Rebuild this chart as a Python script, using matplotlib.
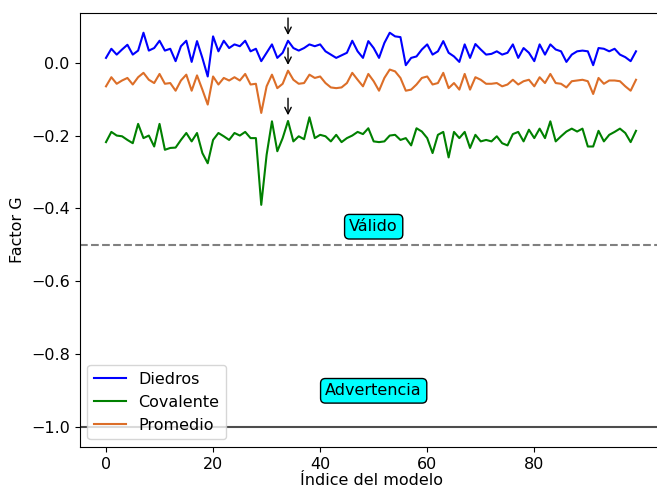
import numpy as np
import matplotlib
matplotlib.use('Agg')
import matplotlib.pyplot as plt

# G-factor per model
diedros = [0.013, 0.038, 0.022, 0.036, 0.049, 0.022, 0.033, 0.082, 0.033, 0.040,
           0.060, 0.033, 0.038, 0.004, 0.045, 0.060, 0.002, 0.059, 0.013, -0.038,
           0.072, 0.031, 0.060, 0.040, 0.050, 0.045, 0.060, 0.031, 0.038, 0.004,
           0.027, 0.050, 0.013, 0.027, 0.060, 0.040, 0.033, 0.040, 0.050, 0.045,
           0.050, 0.031, 0.022, 0.013, 0.020, 0.027, 0.060, 0.031, 0.013, 0.059,
           0.040, 0.013, 0.054, 0.082, 0.072, 0.070, -0.007, 0.013, 0.017, 0.036,
           0.050, 0.022, 0.031, 0.059, 0.027, 0.017, 0.002, 0.050, 0.013, 0.051,
           0.036, 0.022, 0.024, 0.031, 0.022, 0.027, 0.050, 0.013, 0.040, 0.027,
           0.004, 0.050, 0.022, 0.050, 0.036, 0.031, 0.002, 0.022, 0.031, 0.033,
           0.031, -0.007, 0.040, 0.038, 0.031, 0.038, 0.022, 0.015, 0.004, 0.031]

covalente = [-0.218, -0.190, -0.200, -0.202, -0.212, -0.221, -0.168, -0.207, -0.200, -0.230,
             -0.168, -0.239, -0.234, -0.233, -0.212, -0.193, -0.216, -0.193, -0.248, -0.276,
             -0.212, -0.193, -0.202, -0.212, -0.193, -0.200, -0.190, -0.207, -0.207, -0.390,
             -0.253, -0.161, -0.243, -0.207, -0.160, -0.216, -0.202, -0.210, -0.150, -0.207,
             -0.198, -0.202, -0.216, -0.198, -0.218, -0.207, -0.200, -0.190, -0.196, -0.180,
             -0.216, -0.218, -0.216, -0.200, -0.198, -0.212, -0.207, -0.227, -0.180, -0.189,
             -0.207, -0.248, -0.198, -0.190, -0.260, -0.190, -0.207, -0.190, -0.234, -0.198,
             -0.216, -0.212, -0.216, -0.202, -0.221, -0.227, -0.196, -0.190, -0.216, -0.184,
             -0.207, -0.181, -0.207, -0.161, -0.216, -0.202, -0.189, -0.181, -0.189, -0.181,
             -0.230, -0.230, -0.187, -0.216, -0.198, -0.190, -0.181, -0.193, -0.218, -0.187]

promedio = [-0.065, -0.040, -0.058, -0.049, -0.042, -0.060, -0.040, -0.028, -0.047, -0.056,
            -0.031, -0.058, -0.056, -0.077, -0.049, -0.033, -0.077, -0.035, -0.074, -0.115,
            -0.038, -0.060, -0.042, -0.049, -0.040, -0.049, -0.031, -0.060, -0.058, -0.138,
            -0.065, -0.033, -0.070, -0.058, -0.022, -0.047, -0.058, -0.056, -0.033, -0.042,
            -0.038, -0.056, -0.068, -0.070, -0.068, -0.056, -0.028, -0.047, -0.065, -0.031,
            -0.051, -0.077, -0.042, -0.019, -0.024, -0.042, -0.077, -0.074, -0.060, -0.042,
            -0.038, -0.060, -0.056, -0.028, -0.070, -0.056, -0.074, -0.031, -0.074, -0.040,
            -0.047, -0.058, -0.058, -0.056, -0.065, -0.060, -0.047, -0.060, -0.051, -0.047,
            -0.065, -0.040, -0.056, -0.031, -0.056, -0.058, -0.068, -0.051, -0.049, -0.047,
            -0.051, -0.086, -0.042, -0.058, -0.049, -0.049, -0.051, -0.065, -0.077, -0.047]

modelo = np.arange(len(diedros))
destacado = 34  # model marked with arrows

plt.rcParams['font.size'] = 11.5

fig = plt.figure(figsize=(6.57, 4.88), dpi=100)
ax = fig.add_axes([79.5 / 657, 1 - 447 / 488, 583 / 657, 434 / 488])

ax.plot(modelo, diedros, color='b', label='Diedros')
ax.plot(modelo, covalente, color='g', label='Covalente')
ax.plot(modelo, promedio, color='#dc6e28', label='Promedio')

ax.axhline(-0.5, color='gray', ls='--')
ax.axhline(-1.0, color='0.3', ls='-')

caja = dict(boxstyle='round', facecolor='cyan', edgecolor='black')
ax.text(50, -0.45, 'Válido', ha='center', va='center', bbox=caja)
ax.text(50, -0.90, 'Advertencia', ha='center', va='center', bbox=caja)

for serie in (diedros, promedio, covalente):
    y = serie[destacado]
    ax.annotate('', xy=(destacado, y + 0.008), xytext=(destacado, y + 0.07),
                arrowprops=dict(arrowstyle='->', color='black', lw=1))

ax.set_xticks([0, 20, 40, 60, 80])
ax.set_xlabel('Índice del modelo', labelpad=1)
ax.set_ylabel('Factor G')
ax.legend(loc='lower left')

fig.savefig('out.png', dpi=100)
